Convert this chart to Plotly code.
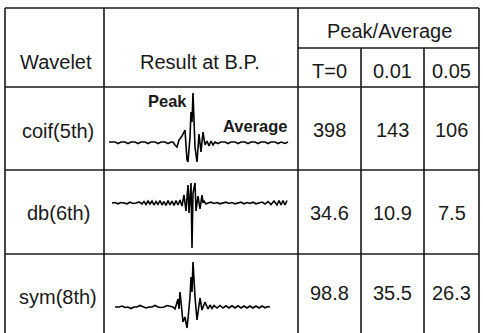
import plotly.graph_objects as go

# ---------------- data ----------------
wavelets = ["coif(5th)", "db(6th)", "sym(8th)"]
thresholds = ["T=0", "0.01", "0.05"]
ratio_t0 = [398, 34.6, 98.8]
ratio_t001 = [143, 10.9, 35.5]
ratio_t005 = [106, 7.5, 26.3]
header_labels = ["Wavelet", "Result at B.P.", "Peak/Average"]
wave_labels = ["Peak", "Average"]

# digitised waveforms (sample index relative to peak, amplitude)
coif_t = [-84, -78, -75, -72, -68, -65, -62, -58, -55, -52, -48, -45, -42, -38, -35, -32, -28, -25, -22,
          -20, -18, -16, -14, -11, -8, -6, -5, -3, -2, -1, 0, 1, 2, 4, 6, 8, 10, 12, 14, 16, 18, 20, 22,
          25, 28, 32, 35, 38, 42, 45, 48, 52, 55, 58, 62, 65, 68, 72, 75, 78, 82, 85, 88, 92, 95]
coif_v = [0, 0, -1.5, 0, 0, -1.5, 0, 0, -1.5, 0, 0, -1.5, 0, 0, -1.5, 0, 0, -1.5, 0,
          0, -3, -5, 2, 6, 12, -18, -20, 5, 30, 20, 49, 25, -5, -20, 8, -10, 10, -3, 1, -4, 1, -3, 0,
          -1.5, 0, 0, -1.5, 0, 0, -1.5, 0, 0, -1.5, 0, 0, -1.5, 0, 0, -1.5, 0, 0, -1.5, 0, -1.5, 0]

db_t = [-80, -77, -74, -71, -68, -65, -62, -59, -56, -53, -50, -48, -46, -44, -42, -40, -38, -36, -34,
        -32, -30, -28, -26, -24, -22, -20, -18, -16, -14, -12, -10, -8, -6, -4, -3, -1, 0,
        1, 3, 4, 6, 8, 10, 11, 12, 14, 16, 19, 22, 25, 28, 31, 34, 37, 40, 43, 46, 49, 52, 55,
        58, 61, 64, 67, 70, 73, 76, 79, 82, 85, 87, 89, 91, 93, 95]
db_v = [0, 0.5, -0.8, 0.5, 0, -0.8, 0.8, -0.5, 0, 1, -1, 1.5, -1.5, 2, -1, 2, -2, 1.5, -1.5,
        2.5, -2, 1.5, -2.5, 2.5, -2, 2, -2.5, 2.5, -2, 3, -3, 8, -8, 18, -10, 20, -45,
        10, 20, -8, 7, -6, 8, 0, 2, -1, 0, 0.8, -0.5, 0.5, -0.8, 0, 0.8, -0.5, 0.5, -0.8, 0, 0.8, -0.8, 0.5,
        -0.5, 0.8, -0.8, 0, 1, -1, 1.5, -1.5, 2, -2, 2.5, -2, 2.5, -2, 2.5]

sym_t = [-78, -74, -71, -68, -65, -62, -59, -56, -53, -50, -47, -44, -41, -38, -35, -32, -29, -26, -23,
         -20, -18, -16, -15, -14, -13, -12, -10, -8, -6, -5, -3, -2, -1, 0, 1, 2, 4, 5, 7, 9, 12, 15,
         17, 19, 21, 24, 27, 30, 33, 36, 39, 42, 45, 48, 51, 54, 57, 60, 63, 66, 69, 72, 75, 77]
sym_v = [0, 0, 1, -0.5, 0, -1.5, 0, 0, 1.5, 0, -1, 0, 0, 1.5, 0, -0.5, 0, 1.5, 1,
         0, -2, 4, 8, -2, 15, 5, -15, -10, -21, -12, 10, 30, 15, 45, 25, 10, -13, -5, 9, -3, 5, -2,
         2, -1.5, 1.5, -1, 1.5, -1, 1.2, -1, 1.2, -1, 1.2, -1, 1, -1, 1, -1, 1, -1, 1, -0.8, 0.5, 0]

waves = [(coif_t, coif_v), (db_t, db_v), (sym_t, sym_v)]

# ---------------- geometry (pixels) ----------------
W, H = 483, 333
col_x = [5, 104, 298, 361, 424, 479]
row_y = [8, 48, 87, 170, 254, 333]
peak_px = [193, 192, 193]
base_px = [142, 203, 307]
label_y = [131, 213, 297]
num_y = [130, 213, 293]

FONT = "Liberation Sans, Arial, Helvetica, sans-serif"
INK = "#1a1a1a"


def px(x):
    return x / W


def py(y):
    return 1 - y / H


fig = go.Figure()
layout_axes = {}
for i, (t, v) in enumerate(waves):
    n = "" if i == 0 else str(i + 1)
    fig.add_trace(go.Scatter(x=t, y=v, mode="lines", xaxis="x" + n, yaxis="y" + n,
                             line=dict(color="#000000", width=1.6), hoverinfo="skip"))
    top, bot = row_y[2 + i], row_y[3 + i]
    layout_axes["xaxis" + n] = dict(domain=[px(col_x[1]), px(col_x[2])],
                                    range=[col_x[1] - peak_px[i], col_x[2] - peak_px[i]],
                                    visible=False, fixedrange=True, anchor="y" + n)
    layout_axes["yaxis" + n] = dict(domain=[py(bot), py(top)],
                                    range=[base_px[i] - bot, base_px[i] - top],
                                    visible=False, fixedrange=True, anchor="x" + n)

shapes = []


def hline(y, x0, x1):
    shapes.append(dict(type="line", xref="paper", yref="paper", x0=px(x0), x1=px(x1), y0=py(y), y1=py(y),
                       line=dict(color=INK, width=1.6)))


def vline(x, y0, y1):
    shapes.append(dict(type="line", xref="paper", yref="paper", x0=px(x), x1=px(x), y0=py(y0), y1=py(y1),
                       line=dict(color=INK, width=1.6)))


hline(row_y[0], col_x[0], col_x[5])
hline(row_y[1], col_x[2], col_x[5])
for y in row_y[2:5]:
    hline(y, col_x[0], col_x[5])
for x in [col_x[0], col_x[1], col_x[2], col_x[5]]:
    vline(x, row_y[0], row_y[5])
for x in col_x[3:5]:
    vline(x, row_y[1], row_y[5])

ann = []


def text(x, y, s, size=20, bold=False, xanchor="center"):
    ann.append(dict(xref="paper", yref="paper", x=px(x), y=py(y), text=("<b>%s</b>" % s) if bold else s,
                    showarrow=False, xanchor=xanchor, yanchor="middle",
                    font=dict(family=FONT, size=size, color=INK)))


text(56, 62, header_labels[0])
text(200, 62, header_labels[1])
text(389, 31, header_labels[2])
for j, th in enumerate(thresholds):
    text((col_x[2 + j] + col_x[3 + j]) / 2, 71, th)
for i, w in enumerate(wavelets):
    text(58, label_y[i], w)
    for j, col in enumerate([ratio_t0, ratio_t001, ratio_t005]):
        text((col_x[2 + j] + col_x[3 + j]) / 2, num_y[i], f"{col[i]:g}")

text(189, 101, wave_labels[0], size=16.5, bold=True, xanchor="right")
text(221, 126, wave_labels[1], size=16.5, bold=True, xanchor="left")

fig.update_layout(width=W, height=H, margin=dict(l=0, r=0, t=0, b=0),
                  paper_bgcolor="white", plot_bgcolor="rgba(0,0,0,0)",
                  showlegend=False, shapes=shapes, annotations=ann, **layout_axes)
fig.write_html("out.html", config=dict(displayModeBar=False),
               post_script="document.body.style.margin='0';document.body.style.overflow='hidden';")
